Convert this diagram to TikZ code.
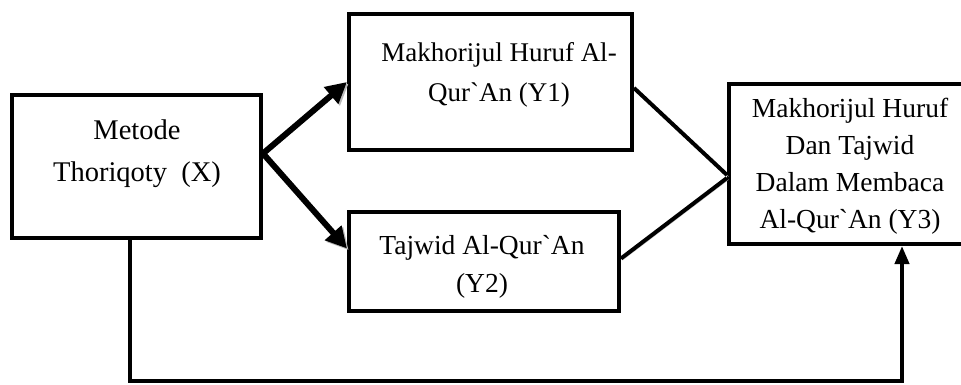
\documentclass[tikz,border=0pt]{standalone}
\usepackage{fontspec}
\setmainfont{Liberation Serif}
\usetikzlibrary{arrows.meta,calc}
\newcommand{\grv}{\textasciigrave}
\begin{document}
\begin{tikzpicture}[x=1pt,y=-1pt,
  box/.style={draw=black, line width=4pt, rectangle, inner sep=0pt, fill=white},
  lbl/.style={inner sep=0pt, anchor=base, align=center, font=\fontsize{27.5}{38}\selectfont},
  shadowed/.style={preaction={draw=gray!55, transform canvas={shift={(1.6pt,-1.6pt)}}}},
  bigarrow/.style={line width=6pt, -{Triangle[length=21pt,width=21pt]}, shadowed},
  link/.style={line width=4pt, shadowed},
  longarrow/.style={line width=4pt, -{Triangle[length=18pt,width=14pt]}}
]
\useasboundingbox (0,0) rectangle (961,385);
\clip (0,0) rectangle (961,385);
\fill[white] (0,0) rectangle (961,385);

% boxes
\node[box, minimum width=249pt, minimum height=143pt] (X) at (136.5,166.5) {};
\node[box, minimum width=283pt, minimum height=136pt] (Y1) at (490.5,82) {};
\node[box, minimum width=270pt, minimum height=99pt] (Y2) at (484,261.5) {};
\node[box, minimum width=245pt, minimum height=160pt] (Y3) at (851.5,164) {};

% texts (anchor base = baseline of last line)
\node[lbl, font=\fontsize{28.5}{42}\selectfont] (tX) at (137,182) {Metode\\Thoriqoty\ \ (X)};
\node[lbl, font=\fontsize{27}{40}\selectfont] (tY1) at (499,102) {Makhorijul Huruf Al-\\Qur\grv An (Y1)};
\node[lbl, font=\fontsize{27.5}{37.5}\selectfont] (tY2) at (482,292) {Tajwid Al-Qur\grv An\\(Y2)};
\node[lbl, font=\fontsize{27.5}{37}\selectfont] (tY3) at (850,228) {Makhorijul Huruf\\Dan Tajwid\\Dalam Membaca\\Al-Qur\grv An (Y3)};

% connectors
\draw[bigarrow] ([yshift=13pt]X.east) -- (Y1.west);
\draw[bigarrow] ([yshift=13pt]X.east) -- ([yshift=13pt]Y2.west);
\draw[link] ([yshift=-6pt]Y1.east) -- ([yshift=-11pt]Y3.west);
\draw[link] ([yshift=3pt]Y2.east) -- ([yshift=-14pt]Y3.west);
\draw[longarrow] ([xshift=-6.5pt]X.south) -- ++(0,141) -| ([xshift=50.5pt]Y3.south);
\end{tikzpicture}
\end{document}
